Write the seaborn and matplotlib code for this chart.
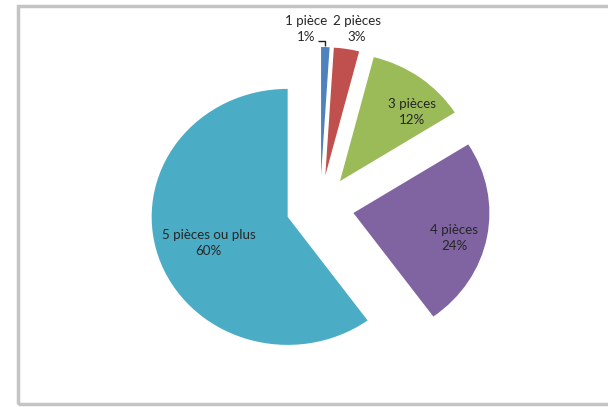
import numpy as np
import matplotlib
matplotlib.use("Agg")
import matplotlib.pyplot as plt
import seaborn as sns
from matplotlib.patches import Rectangle

sns.set_theme(style="white")
plt.rcParams["font.family"] = ["Lato", "DejaVu Sans"]

# Répartition des logements selon le nombre de pièces
categories = ["1 pièce", "2 pièces", "3 pièces", "4 pièces", "5 pièces ou plus"]
shares = [1, 3, 12, 24, 60]
palette = ["#4F81BD", "#C0504D", "#9BBB59", "#8064A2", "#4BACC6"]

fig = plt.figure(figsize=(6.08, 4.07), dpi=100)
ax = fig.add_axes([0, 0, 1, 1])

wedges, _ = ax.pie(
    shares,
    colors=palette,
    startangle=90,
    counterclock=False,
    explode=[0.25] * len(shares),
    radius=1.0,
    wedgeprops=dict(linewidth=0),
)

# slightly wider than tall, as in the exported chart
ax.set_aspect("auto")
ax.set_xlim(-320 / 136, (608 - 320) / 136)
ax.set_ylim(-(407 - 207) / 128, 207 / 128)
ax.axis("off")

# label placement relative to each exploded wedge: (radius, angle shift)
label_pos = [(1.145, 7.4), (1.167, -2.5), (0.757, -8.5), (0.768, -3.9), (0.615, 1.3)]
for w, cat, val, (r, dth) in zip(wedges, categories, shares, label_pos):
    cx, cy = w.center
    mid = np.deg2rad((w.theta1 + w.theta2) / 2 + dth)
    ax.text(cx + r * np.cos(mid), cy + r * np.sin(mid), f"{cat}\n{val}%",
            ha="center", va="center", fontsize=9.6, color="#262626",
            linespacing=1.4)

# leader line for the smallest slice
w0 = wedges[0]
mid0 = np.deg2rad((w0.theta1 + w0.theta2) / 2)
ox = w0.center[0] + w0.r * np.cos(mid0)
oy = w0.center[1] + w0.r * np.sin(mid0)
ax.plot([ox - 0.055, ox, ox], [oy + 0.045, oy + 0.045, oy + 0.01],
        color="#202020", linewidth=1.0, solid_capstyle="butt")

# chart frame
fig.patches.append(Rectangle((17.5 / 608, 1 - 404 / 407), 700 / 608, (404 - 5.5) / 407,
                             transform=fig.transFigure, fill=False,
                             edgecolor="#C4C4C4", linewidth=2.5))

fig.savefig("out.png", dpi=100)
